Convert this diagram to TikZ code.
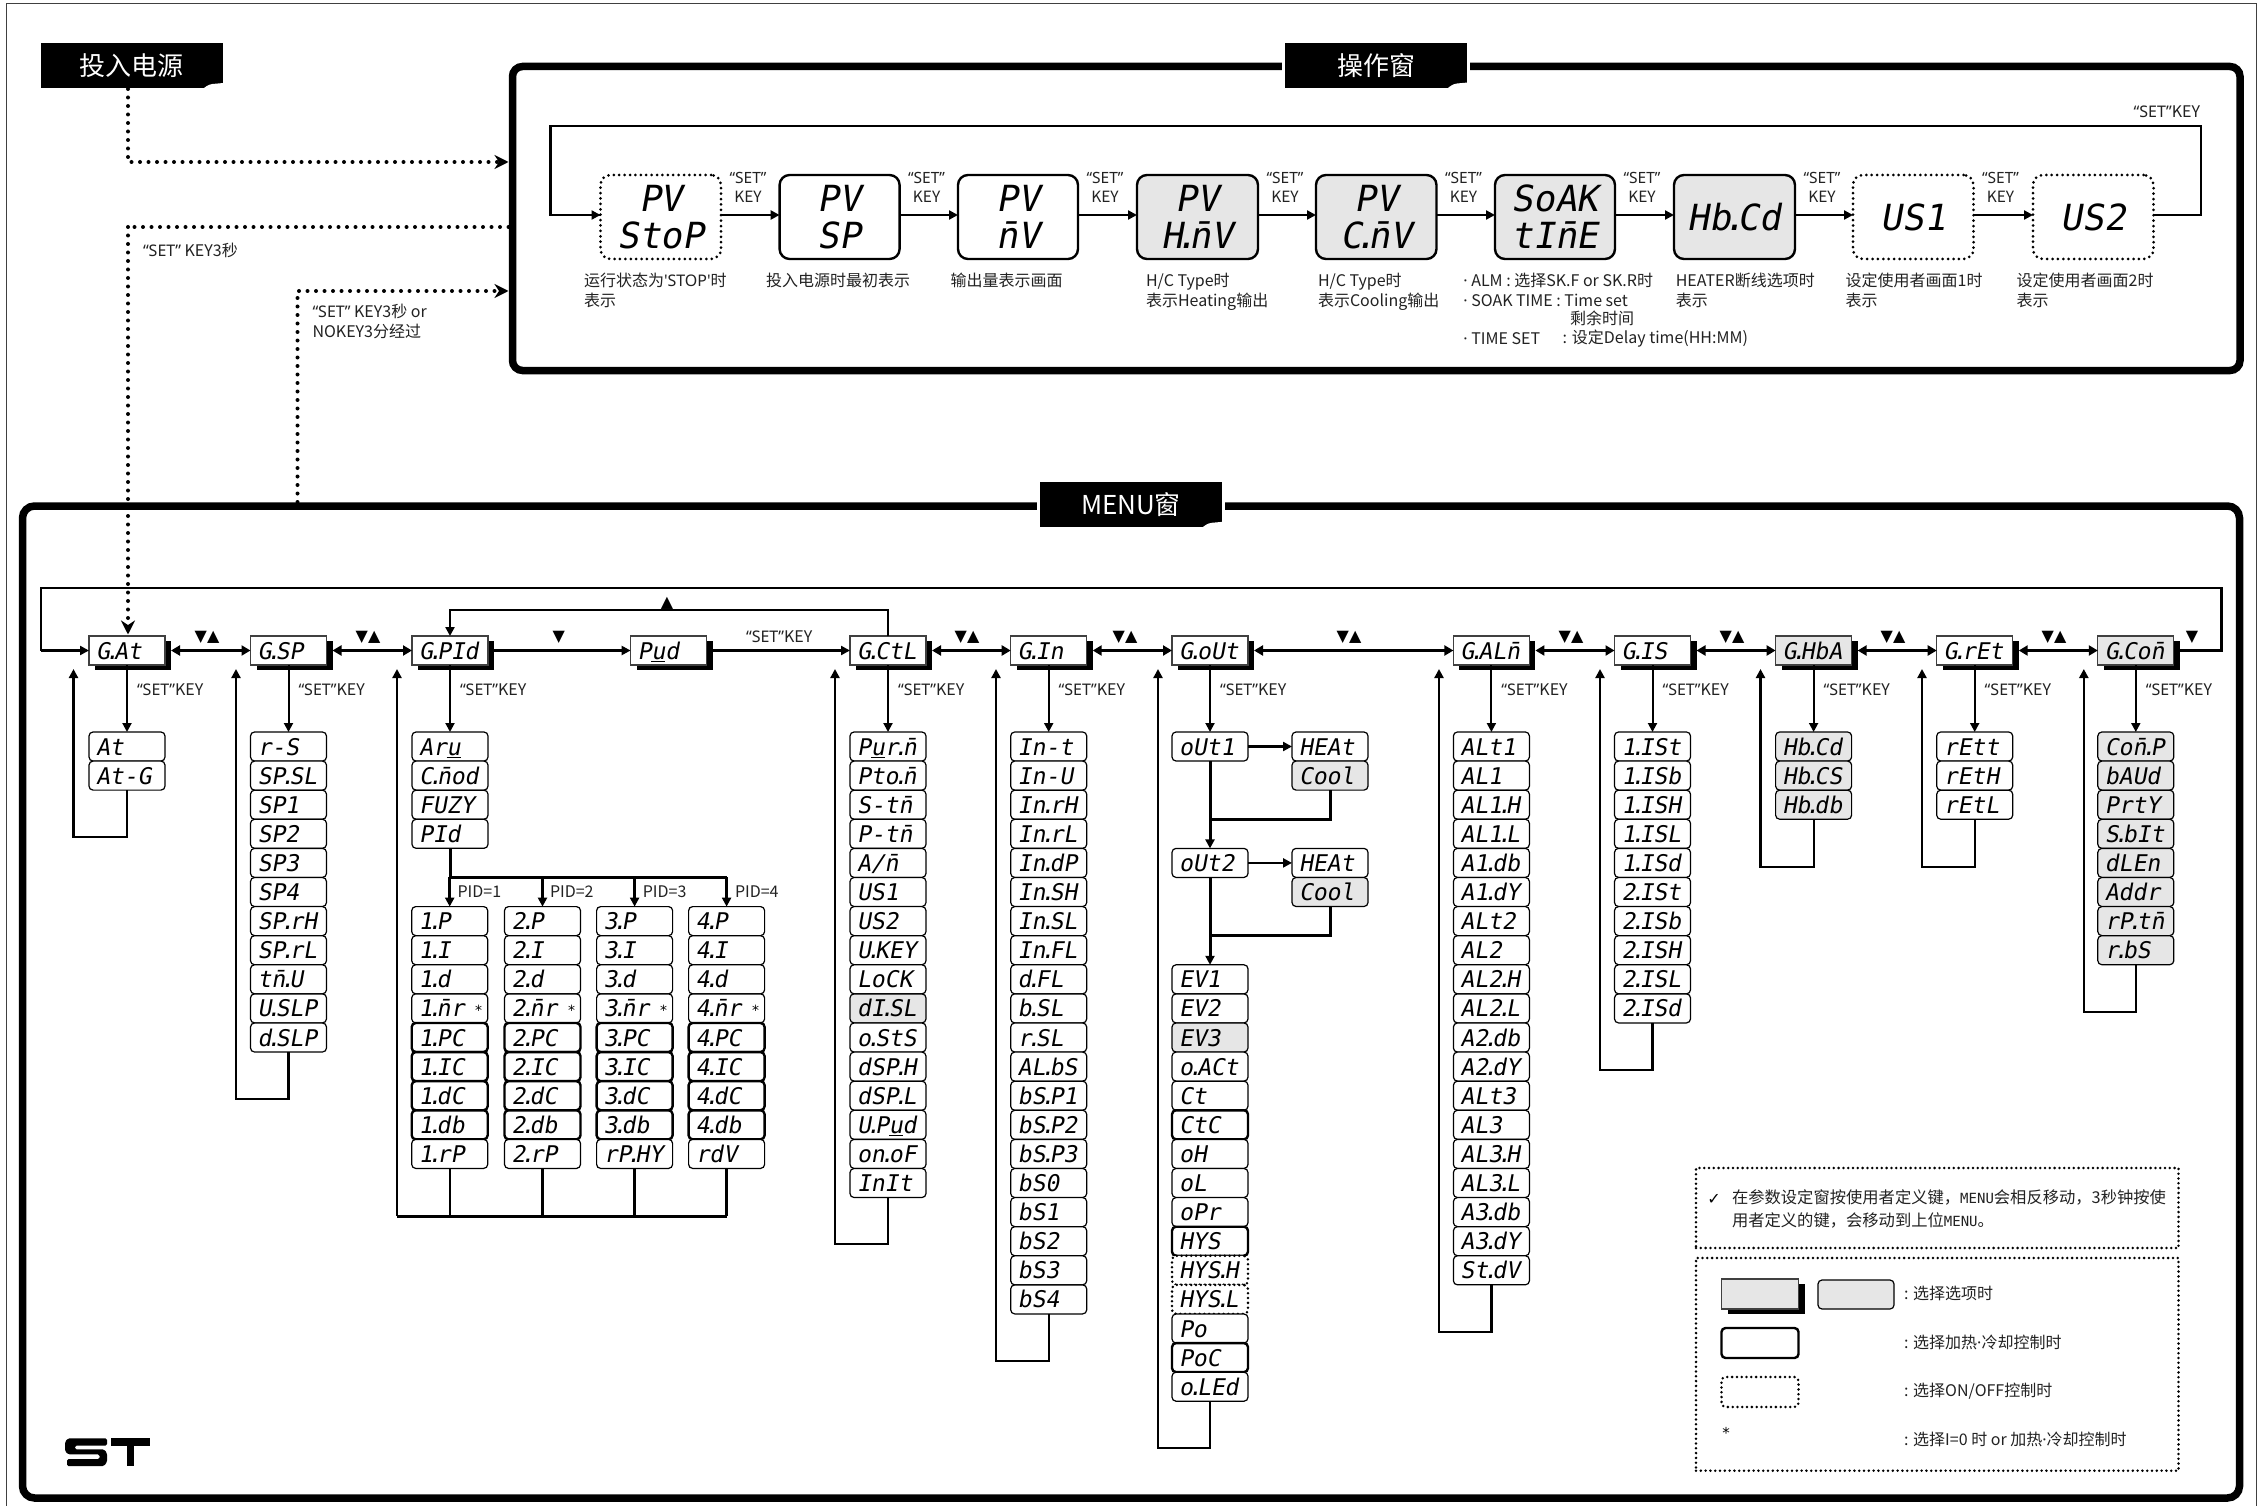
\documentclass[tikz,border=0pt]{standalone}
\usepackage{fontspec}
\setmainfont{Noto Sans CJK SC}
\newfontfamily\lcd[FakeSlant=0.18]{DejaVu Sans Mono}
\newfontfamily\djv{DejaVu Sans}
\newfontfamily\mmono{DejaVu Sans Mono}
\newfontfamily\nts[Ligatures=NoCommon]{Noto Sans}
\usetikzlibrary{arrows.meta,shadows,calc}
\newcommand\D{\kern-.21em.\kern-.21em}
\newcommand\W{$\underline{\hbox{u}}$}
\newcommand\SETQ{{\nts “SET”}}
\newcommand\Dot{{\nts ·}}
\newcounter{lc}
\definecolor{pane}{HTML}{E6E6E6}
\definecolor{ink}{HTML}{222222}
\tikzset{
  every node/.style={outer sep=0pt},
  lcdbox/.style={rectangle,anchor=north west,rounded corners=4pt,draw=black,line width=1.2pt,fill=white,
    minimum width=76pt,minimum height=29pt,inner sep=0pt,text width=62pt,align=left,
    text height=17pt,text depth=0pt,font=\lcd\fontsize{23}{23}\selectfont},
  lp/.style={},
  lg/.style={fill=pane},
  lh/.style={line width=2.4pt},
  ld/.style={line width=2.8pt,dash pattern=on 0pt off 4.8pt,line cap=round},
  grp/.style={rectangle,anchor=north west,draw=black!75,line width=1.3pt,fill=white,
    minimum width=76pt,minimum height=29pt,inner sep=0pt,text width=62pt,align=left,
    text height=17pt,text depth=0pt,font=\lcd\fontsize{23}{23}\selectfont,
    general shadow={fill=black,shadow xshift=6pt,shadow yshift=-4.5pt}},
  grpg/.style={grp,fill=pane},
  bigbox/.style={rectangle,anchor=north west,rounded corners=10pt,draw=black,line width=2.4pt,fill=white,
    minimum height=84pt,inner sep=0pt,align=center,font=\lcd\fontsize{36}{37}\selectfont},
  bigg/.style={bigbox,fill=pane},
  bigd/.style={bigbox,line width=3pt,dash pattern=on 0pt off 5.4pt,line cap=round},
  frm/.style={rectangle,anchor=north west,rounded corners=10pt,draw=black,line width=7.5pt,inner sep=0pt},
  titl/.style={rectangle,fill=black,text=white,inner sep=0pt,minimum width=182pt,minimum height=45pt,
    font=\fontsize{26}{26}\selectfont},
  halo/.style={titl,draw=white,line width=3pt,minimum width=185pt,minimum height=48pt},
  lbl/.style={inner sep=0pt,anchor=west,text=ink,font=\fontsize{16}{20}\selectfont},
  mlbl/.style={inner sep=0pt,anchor=north west,align=left,text=ink,font=\fontsize{16}{20}\selectfont},
  tri/.style={inner sep=0pt,font=\djv\fontsize{16}{16}\selectfont},
  star/.style={inner sep=0pt,font=\djv\fontsize{14}{14}\selectfont},
  arr/.style={line width=2.6pt,-{Triangle[length=9pt,width=9pt]}},
  both/.style={line width=2.8pt,{Triangle[length=9pt,width=10pt]}-{Triangle[length=9pt,width=10pt]}},
  arrs/.style={line width=2pt,-{Triangle[length=9pt,width=9pt]}},
  ret/.style={line width=2.2pt,-{Triangle[length=9pt,width=9pt]}},
  thk/.style={line width=3pt},
  dotl/.style={line width=4pt,dash pattern=on 0pt off 8.5pt,line cap=round},
  dota/.style={dotl,-{Stealth[length=14pt,width=14pt]}},
  notebox/.style={rectangle,anchor=north west,inner sep=0pt,draw=black,line width=2.8pt,dash pattern=on 0pt off 4.8pt,line cap=round},
}
\newcommand\lab[3]{\stepcounter{lc}\node[lbl] (lab\arabic{lc}) at (#1,#2) {#3};}
\newcommand\mlab[3]{\stepcounter{lc}\node[mlbl] (lab\arabic{lc}) at (#1,#2) {#3};}
\newcommand\tris[3]{\stepcounter{lc}\node[tri] (tri\arabic{lc}) at (#1,#2) {#3};}
\newcommand\col[4]{\foreach \lbltxt/\sty [count=\i from #3] in {#4}{\node[lcdbox,\sty] (#1-\i) at (#2,{732+29.1*\i}) {\lbltxt};}}
\newcommand\setkey[2]{\stepcounter{lc}\node[lbl] (lab\arabic{lc}) at ($(#1.south)+(10,#2)$) {\SETQ KEY};}
\newcommand\retloop[3]{\coordinate (lb#1) at (#2,#3);\coordinate (lt#1) at (#2,669);\draw[ret] (#1.south) |- (lb#1) -- (lt#1);}
\newcommand\notch[2]{\fill[white] (#1-20,#2+1) .. controls (#1-17,#2-2) and (#1-14,#2-4) .. (#1-10,#2-4.5) -- (#1+1,#2-5.5) -- (#1+1,#2+1) -- cycle;}
\begin{document}
\begin{tikzpicture}[x=1pt,y=-1pt]
\useasboundingbox (0,0) rectangle (2265,1506);
\fill[white] (0,0) rectangle (2265,1506);
% outer thin frame
\draw[line width=1.5pt,draw=black!75] (6.4,3.3) -- (2256.7,3.3) -- (2256.7,1515) -- (6.4,1515) -- cycle;

% frames
\node[frm,minimum width=1727.5pt,minimum height=304pt] (opf) at (512.5,66.5) {};
\node[frm,minimum width=2217pt,minimum height=992pt,rounded corners=12pt] (mnf) at (22.5,506) {};

% titles
\node[halo] (pw) at (131.7,66) {投入电源};
\notch{222.5}{88.5}
\node[halo] (optitle) at (1376,65.5) {操作窗};
\notch{1467}{88}
\node[halo] (mntitle) at (1131,504.8) {MENU窗};
\notch{1221.7}{527.3}

% dotted connectors
\coordinate (opA) at (508.5,162);
\coordinate (opB) at (508.5,227);
\coordinate (opC) at (508.5,291);
\coordinate (dA) at (128,89);
\coordinate (dB) at (128,227);
\coordinate (dC) at (297.5,291);
\coordinate (dD) at (297.5,502);
\draw[dota] (dA) |- (opA);
\draw[dotl] (opB) -- (dB);
\draw[dota] (dD) -- (dC) -- (opC);
\lab{143}{250}{\SETQ{} KEY3秒}
\mlab{312.5}{304}{\SETQ{} KEY3秒 or\\NOKEY3分经过}

% operation row
\coordinate (rowY) at (0,215);
\node[bigd,minimum width=120.5pt] (b1) at (600.5,175) {PV\\StoP};
\node[bigbox,minimum width=120pt] (b2) at (779.6,175) {PV\\SP};
\node[bigbox,minimum width=120pt] (b3) at (958,175) {PV\\n̄V};
\node[bigg,minimum width=121pt] (b4) at (1137,175) {PV\\H\D n̄V};
\node[bigg,minimum width=120.5pt] (b5) at (1316,175) {PV\\C\D n̄V};
\node[bigg,minimum width=120pt] (b6) at (1495,175) {SoAK\\tIn̄E};
\node[bigg,minimum width=121pt] (b7) at (1674,175) {Hb\D Cd};
\node[bigd,minimum width=120.5pt] (b8) at (1853,175) {US1};
\node[bigd,minimum width=120.5pt] (b9) at (2033,175) {US2};
\foreach \a/\b in {b1/b2,b2/b3,b3/b4,b4/b5,b5/b6,b6/b7,b7/b8,b8/b9}{
  \draw[arr] (\a.east |- rowY) -- (\b.west |- rowY);
  \stepcounter{lc}
  \node[inner sep=0pt,anchor=north,align=center,text=ink,font=\fontsize{15.5}{19}\selectfont] (lab\arabic{lc}) at ($(\a.north east)+(27,-3)$) {\SETQ\\KEY};
}
\coordinate (lpA) at (2201,215);
\coordinate (lpB) at (2201,126);
\coordinate (lpC) at (550.5,126);
\coordinate (lpD) at (550.5,215);
\draw[line width=2.4pt] (b9.east |- rowY) -- (lpA) -- (lpB) -- (lpC) -- (lpD) -- (b1.west |- rowY);
\draw[arr] (lpD) -- (b1.west |- rowY);
\stepcounter{lc}\node[lbl,anchor=east] (lab\arabic{lc}) at (2200,112) {\SETQ KEY};

\mlab{584}{273}{运行状态为{\nts\char"27 STOP\char"27}时\\表示}
\lab{766}{280}{投入电源时最初表示}
\lab{950.6}{280}{输出量表示画面}
\mlab{1146}{273}{H/C Type时\\表示Heating输出}
\mlab{1318}{273}{H/C Type时\\表示Cooling输出}
\lab{1463.4}{280}{\Dot{} ALM : 选择SK.F or SK.R时}
\lab{1463.4}{300}{\Dot{} SOAK TIME : Time set}
\lab{1570}{318}{剩余时间}
\lab{1463.4}{339}{\Dot{} TIME SET}
\lab{1562.7}{339}{: 设定Delay time(HH:MM)}
\mlab{1675.8}{273}{HEATER断线选项时\\表示}
\mlab{1845.7}{273}{设定使用者画面1时\\表示}
\mlab{2016.7}{273}{设定使用者画面2时\\表示}

% group row
\node[grp] (GAt) at (89,636) {G\D At};
\node[grp] (GSP) at (250.5,636) {G\D SP};
\node[grp] (GPI) at (412,636) {G\D PId};
\node[grp] (Pwd) at (630.6,636) {P\W d};
\node[grp] (GCt) at (850,636) {G\D CtL};
\node[grp] (GIn) at (1010.7,636) {G\D In};
\node[grp] (GOu) at (1172,636) {G\D oUt};
\node[grp] (GAL) at (1453.4,636) {G\D ALn̄};
\node[grp] (GIS) at (1614.5,636) {G\D IS};
\node[grpg] (GHb) at (1775.6,636) {G\D HbA};
\node[grp] (GrE) at (1936.7,636) {G\D rEt};
\node[grpg] (GCo) at (2097.8,636) {G\D Con̄};

\foreach \a/\b in {GAt/GSP,GSP/GPI,GCt/GIn,GIn/GOu,GOu/GAL,GAL/GIS,GIS/GHb,GHb/GrE,GrE/GCo}{
  \draw[both] ([xshift=6pt]\a.east) -- (\b.west);
}
\draw[arr,line width=2.8pt] ([xshift=6pt]GPI.east) -- (Pwd.west);
\draw[arr,line width=2.8pt] ([xshift=6pt]Pwd.east) -- (GCt.west);
\tris{207}{637.5}{▼▲}
\tris{368}{637.5}{▼▲}
\tris{558.7}{637.5}{▼}
\lab{746}{637}{\SETQ KEY}
\tris{967}{637.5}{▼▲}
\tris{1125}{637.5}{▼▲}
\tris{1349}{637.5}{▼▲}
\tris{1571}{637.5}{▼▲}
\tris{1732}{637.5}{▼▲}
\tris{1893}{637.5}{▼▲}
\tris{2054}{637.5}{▼▲}
\tris{2192}{637.5}{▼}
\tris{667}{603.6}{▲}

% return from G.Ctl to G.PId
\coordinate (cTop) at (0,610);
\draw[arr] (GCt.north) -- (GCt.north |- cTop) -- (GPI.north |- cTop) -- (GPI.north);
% outer loop
\coordinate (oA) at (2221.7,650.5);
\coordinate (oB) at (2221.7,588);
\coordinate (oC) at (41,588);
\coordinate (oD) at (41,650.5);
\draw[line width=2.6pt] ([xshift=6pt]GCo.east) -- (oA) -- (oB) -- (oC) -- (oD);
\draw[arr] (oD) -- (GAt.west);
% dotted entry to G.At
\coordinate (dF) at (128,634.5);
\draw[dota] (dB) -- (dF);

% columns
\col{cA}{89}{0}{At/lp,At-G/lp}
\col{cB}{250.5}{0}{r-S/lp,SP\D SL/lp,SP1/lp,SP2/lp,SP3/lp,SP4/lp,SP\D rH/lp,SP\D rL/lp,tn̄\D U/lp,U\D SLP/lp,d\D SLP/lp}
\col{cC}{412}{0}{Ar\W/lp,C\D n̄od/lp,FUZY/lp,PId/lp}
\col{cP}{411.7}{6}{1\D P/lp,1\D I/lp,1\D d/lp,1\D n̄r/lp,1\D PC/lh,1\D IC/lh,1\D dC/lh,1\D db/lh,1\D rP/lp}
\col{cQ}{504.5}{6}{2\D P/lp,2\D I/lp,2\D d/lp,2\D n̄r/lp,2\D PC/lh,2\D IC/lh,2\D dC/lh,2\D db/lh,2\D rP/lp}
\col{cR}{596.6}{6}{3\D P/lp,3\D I/lp,3\D d/lp,3\D n̄r/lp,3\D PC/lh,3\D IC/lh,3\D dC/lh,3\D db/lh,rP\D HY/lp}
\col{cS}{688.6}{6}{4\D P/lp,4\D I/lp,4\D d/lp,4\D n̄r/lp,4\D PC/lh,4\D IC/lh,4\D dC/lh,4\D db/lh,rdV/lp}
\foreach \c in {cP,cQ,cR,cS}{\node[star] (star\c) at ($(\c-9.east)+(-9,2)$) {*};}
\col{cT}{850}{0}{P\W r\D n̄/lp,Pto\D n̄/lp,S-tn̄/lp,P-tn̄/lp,{A/n̄}/lp,US1/lp,US2/lp,U\D KEY/lp,LoCK/lp,dI\D SL/lg,o\D StS/lp,dSP\D H/lp,dSP\D L/lp,U\D P\W d/lp,on\D oF/lp,InIt/lp}
\col{cU}{1010.7}{0}{In-t/lp,In-U/lp,In\D rH/lp,In\D rL/lp,In\D dP/lp,In\D SH/lp,In\D SL/lp,In\D FL/lp,d\D FL/lp,b\D SL/lp,r\D SL/lp,AL\D bS/lp,bS\D P1/lp,bS\D P2/lp,bS\D P3/lp,bS0/lp,bS1/lp,bS2/lp,bS3/lp,bS4/lp}
\col{cV}{1172}{0}{oUt1/lp}
\col{cV}{1172}{4}{oUt2/lp}
\col{cV}{1172}{8}{EV1/lp,EV2/lp,EV3/lg,o\D ACt/lp,Ct/lp,CtC/lh,oH/lp,oL/lp,oPr/lp,HYS/lh,HYS\D H/ld,HYS\D L/ld,Po/lp,PoC/lh,o\D LEd/lp}
\col{cW}{1292}{0}{HEAt/lp,Cool/lg}
\col{cX}{1292}{4}{HEAt/lp,Cool/lg}
\col{cG}{1453.4}{0}{ALt1/lp,AL1/lp,AL1\D H/lp,AL1\D L/lp,A1\D db/lp,A1\D dY/lp,ALt2/lp,AL2/lp,AL2\D H/lp,AL2\D L/lp,A2\D db/lp,A2\D dY/lp,ALt3/lp,AL3/lp,AL3\D H/lp,AL3\D L/lp,A3\D db/lp,A3\D dY/lp,St\D dV/lp}
\col{cH}{1614.5}{0}{1\D ISt/lp,1\D ISb/lp,1\D ISH/lp,1\D ISL/lp,1\D ISd/lp,2\D ISt/lp,2\D ISb/lp,2\D ISH/lp,2\D ISL/lp,2\D ISd/lp}
\col{cI}{1775.6}{0}{Hb\D Cd/lg,Hb\D CS/lg,Hb\D db/lg}
\col{cJ}{1936.7}{0}{rEtt/lp,rEtH/lp,rEtL/lp}
\col{cK}{2097.8}{0}{Con̄\D P/lg,bAUd/lg,PrtY/lg,S\D bIt/lg,dLEn/lg,Addr/lg,rP\D tn̄/lg,r\D bS/lg}

% SET KEY drops
\foreach \g/\c in {GAt/cA,GSP/cB,GPI/cC,GCt/cT,GIn/cU,GOu/cV,GAL/cG,GIS/cH,GHb/cI,GrE/cJ,GCo/cK}{
  \draw[arrs] (\g.south) -- (\c-0.north);
  \setkey{\g}{25}
}
% returns
\retloop{cA-1}{73.5}{836.8}
\retloop{cB-10}{236}{1098.6}
\retloop{cT-15}{835}{1243.7}
\retloop{cU-19}{996}{1361}
\retloop{cV-22}{1158}{1448}
\retloop{cG-18}{1439}{1332}
\retloop{cH-9}{1600}{1070}
\retloop{cI-2}{1760.5}{866.7}
\retloop{cJ-2}{1922}{866.7}
\retloop{cK-7}{2083.8}{1012}

% PID bus
\coordinate (busY) at (0,877.3);
\coordinate (pb) at (397,1216);
\coordinate (pt) at (397,669);
\draw[thk] (cC-3.south) -- (cC-3.south |- busY) -- (cS-6.north |- busY);
\foreach \c in {cP,cQ,cR,cS}{\draw[arr] (\c-6.north |- busY) -- (\c-6.north);}
\lab{457.6}{892}{PID=1}
\lab{550}{892}{PID=2}
\lab{642.8}{892}{PID=3}
\lab{735}{892}{PID=4}
\foreach \c in {cP,cQ,cR,cS}{\draw[line width=2.4pt] (\c-14.south) -- (\c-14.south |- pb);}
\draw[thk] (cS-14.south |- pb) -- (pb);
\draw[ret,line width=2.4pt] (pb) -- (pt);

% output column links
\draw[arr] (cV-0.east) -- (cW-0.west);
\draw[arr] (cV-4.east) -- (cX-4.west);
\coordinate (vA) at (0,819);
\coordinate (vB) at (0,935.7);
\draw[thk] (cW-1.south) -- (cW-1.south |- vA) -- (cV-0.south |- vA);
\draw[thk] (cX-5.south) -- (cX-5.south |- vB) -- (cV-4.south |- vB);
\draw[arr,line width=3pt] (cV-0.south) -- (cV-4.north);
\draw[arr,line width=3pt] (cV-4.south) -- (cV-8.north);

% notes
\node[notebox,minimum width=482.5pt,minimum height=80pt] (note1) at (1696,1168) {};
\node[notebox,minimum width=482.5pt,minimum height=212.7pt] (note2) at (1696,1258) {};
\node[inner sep=0pt,font=\djv\fontsize{16}{16}\selectfont] (chk) at (1714,1199) {✓};
\node[inner sep=0pt,anchor=west,text=ink,font=\fontsize{16.3}{16.3}\selectfont] (n1) at (1732,1197.7) {在参数设定窗按使用者定义键，{\mmono\fontsize{14}{14}\selectfont MENU}会相反移动，3秒钟按使};
\node[inner sep=0pt,anchor=west,text=ink,font=\fontsize{16.3}{16.3}\selectfont] (n2) at (1732,1220) {用者定义的键，会移动到上位{\mmono\fontsize{14}{14}\selectfont MENU}。};
% legend
\node[grpg,minimum width=77pt,minimum height=30pt] (lg1) at (1721.5,1279) {};
\node[lcdbox,lg,minimum width=76pt,minimum height=29pt] (lg2) at (1818,1280) {};
\node[lcdbox,lh,minimum width=77pt,minimum height=30pt] (lg3) at (1721.5,1328) {};
\node[lcdbox,ld,minimum width=77pt,minimum height=30pt] (lg4) at (1721.5,1377) {};
\node[star,font=\djv\fontsize{15}{15}\selectfont] (lg5) at (1726,1433) {*};
\lab{1904}{1293}{: 选择选项时}
\lab{1904}{1342.7}{: 选择加热\Dot{}冷却控制时}
\lab{1904}{1390.7}{: 选择ON/OFF控制时}
\lab{1904}{1439}{: 选择I=0 时  or 加热\Dot{}冷却控制时}

% logo
\fill[black,rounded corners=1.5pt] (107,1438.3) -- (68,1438.3) -- (65,1442) -- (65,1451) -- (68,1454.3) -- (99.5,1454.3) -- (99.5,1459) -- (67,1459) -- (67,1466) -- (104,1466) -- (107,1462) -- (107,1453) -- (104,1449.3) -- (75,1449.3) -- (75,1445.7) -- (107,1445.7) -- cycle;
\fill[black] (110.7,1438.3) rectangle (150,1445.7);
\fill[black] (126.7,1438.3) rectangle (134.3,1466);
\end{tikzpicture}
\end{document}
